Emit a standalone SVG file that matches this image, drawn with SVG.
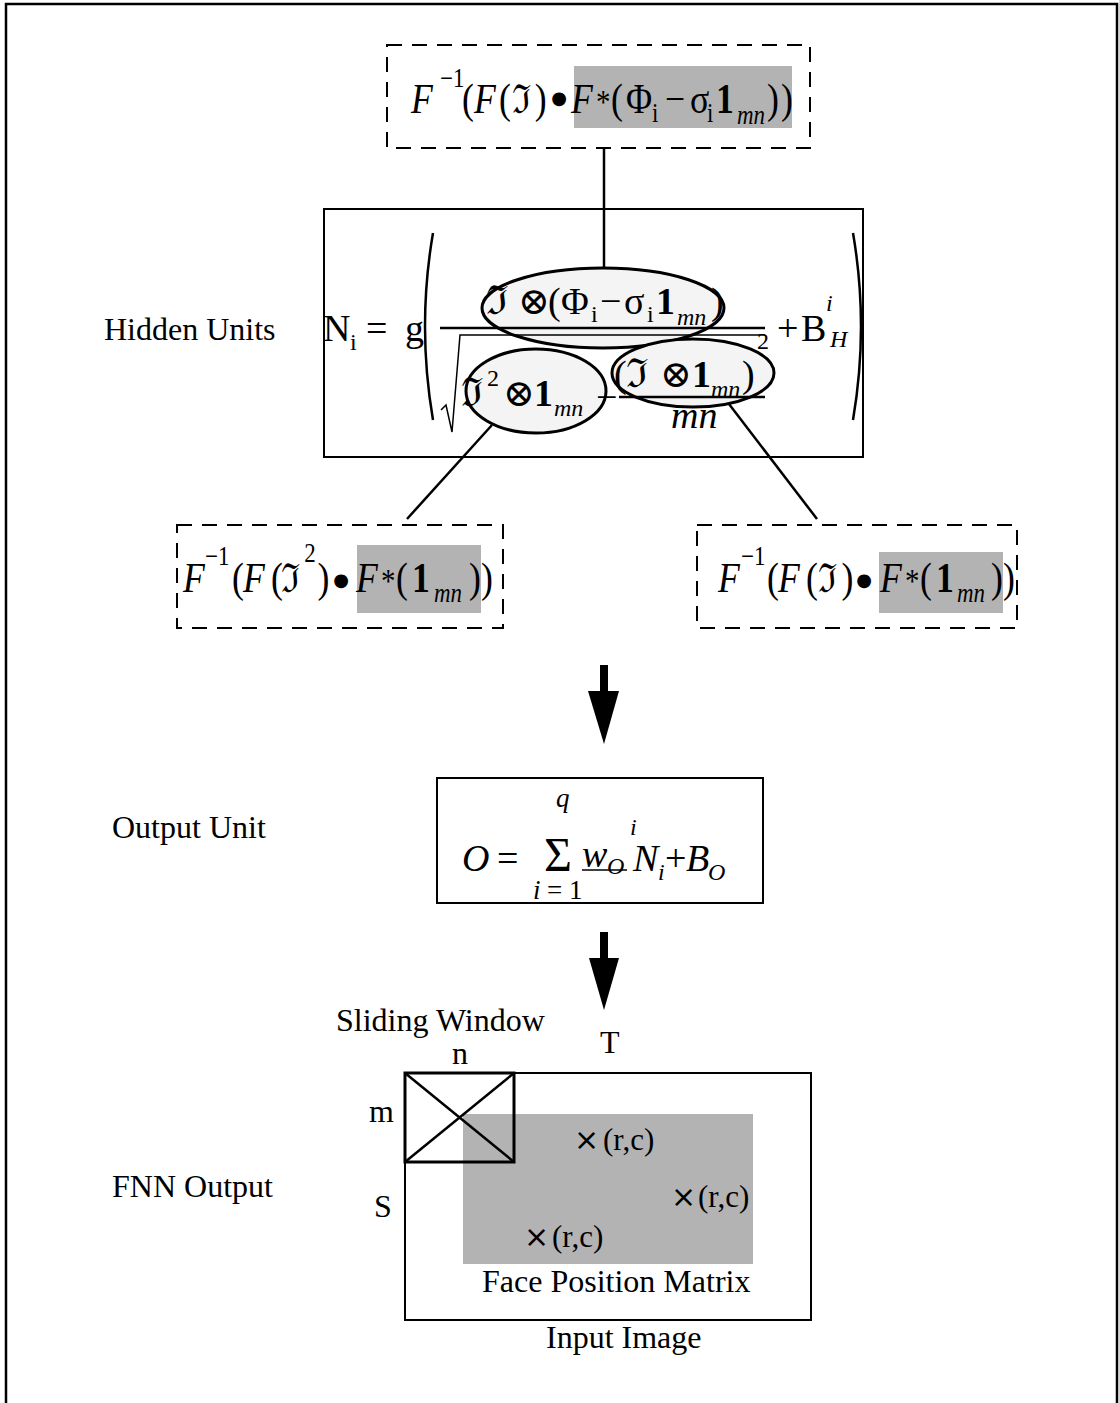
<svg xmlns="http://www.w3.org/2000/svg" width="1119" height="1403" viewBox="0 0 1119 1403">
<style>
.t{font-family:"Liberation Serif","DejaVu Serif",serif;fill:#000}
.lbl{font-size:32px}
.f{font-size:42px}
.h{font-size:38px}
.o{font-size:38px}
.s{font-size:27px}
.ss{font-size:24px}
.it{font-style:italic}
.b{font-weight:bold}
.fr{font-size:40px}
.ast{font-size:34px}
.dot{font-family:"DejaVu Sans",sans-serif;font-size:18px;text-anchor:middle}
.dash{fill:none;stroke:#000;stroke-width:2;stroke-dasharray:15 10}
.gray{fill:#b3b3b3}
.box{fill:none;stroke:#000;stroke-width:2}
.ell{fill:#f4f4f4;stroke:#000;stroke-width:3}
.ln{stroke:#000;stroke-width:2.5;fill:none}
</style>
<rect width="1119" height="1403" fill="#fff"/>
<path d="M6,1403 V4 H1117 V1403" fill="none" stroke="#000" stroke-width="2.5"/>

<g id="connectors">
<line class="ln" x1="604" y1="148" x2="604" y2="269"/>
<line class="ln" x1="492" y1="425" x2="407" y2="519"/>
<line class="ln" x1="729" y1="404" x2="817" y2="519"/>
<rect x="600" y="665" width="8" height="27"/>
<polygon points="588,691 619,691 604,744"/>
<rect x="600" y="932" width="8" height="27"/>
<polygon points="589,958 619,958 604,1010"/>
</g>

<g id="top-formula">
<rect class="dash" x="387" y="45" width="423" height="103"/>
<rect class="gray" x="574" y="66" width="218" height="62"/>
<g transform="scale(0.85,1)">
<text class="t f"><tspan class="it" x="483.5" y="113">F</tspan><tspan class="s" x="517.6" y="87">−1</tspan><tspan x="543.5" y="113">(</tspan><tspan class="it" x="557.6" y="113">F</tspan><tspan x="587.1" y="113">(</tspan><tspan class="fr" x="602" y="113">ℑ</tspan><tspan x="629" y="113">)</tspan><tspan class="it" x="671.8" y="113">F</tspan><tspan class="ast" x="701.2" y="113">*</tspan><tspan x="718.8" y="113">(</tspan><tspan x="736.5" y="113">Φ</tspan><tspan class="s" x="767.1" y="122">i</tspan><tspan x="782.4" y="113">−</tspan><tspan x="811.8" y="113">σ</tspan><tspan class="s" x="831.8" y="122">i</tspan><tspan class="b" x="842.4" y="113">1</tspan><tspan class="s it" x="867.1" y="124">mn</tspan><tspan x="902.4" y="113">)</tspan><tspan x="918.8" y="113">)</tspan></text>
</g>
<text class="dot" x="559" y="104">●</text>
</g>

<g id="hidden-units">
<text class="t lbl" x="104" y="340">Hidden Units</text>
<rect class="box" x="324" y="209" width="539" height="248"/>
<ellipse class="ell" cx="603" cy="308" rx="121" ry="40"/>
<ellipse class="ell" cx="536" cy="391" rx="70" ry="42"/>
<ellipse class="ell" cx="693" cy="373" rx="81" ry="34"/>
<path d="M433,233 Q417,326 433,420" fill="none" stroke="#000" stroke-width="2.5"/>
<path d="M853,233 Q869,326 853,420" fill="none" stroke="#000" stroke-width="2.5"/>
<line x1="440" y1="328" x2="765" y2="328" stroke="#000" stroke-width="2.5"/>
<path d="M441,410 L446,405 L452,432 L460,335 L765,335" fill="none" stroke="#000" stroke-width="1.5"/>
<line x1="619" y1="397" x2="765" y2="397" stroke="#000" stroke-width="2.5"/>
<text class="t h"><tspan x="323" y="341">N</tspan><tspan class="ss" x="350" y="350">i</tspan><tspan x="366" y="341">=</tspan><tspan x="405" y="341">g</tspan></text>
<text class="t h"><tspan class="fr" x="486" y="314">ℑ</tspan><tspan x="518" y="314">⊗</tspan><tspan x="548" y="314">(</tspan><tspan x="561" y="314">Φ</tspan><tspan class="ss" x="591" y="322">i</tspan><tspan x="600" y="314">−</tspan><tspan x="624" y="314">σ</tspan><tspan class="ss" x="647" y="322">i</tspan><tspan class="b" x="656" y="314">1</tspan><tspan class="ss it" x="677" y="325">mn</tspan><tspan x="711" y="314">)</tspan></text>
<text class="t h"><tspan x="777" y="341">+</tspan><tspan x="801" y="341">B</tspan><tspan class="ss it" x="826" y="311">i</tspan><tspan class="ss it" x="830" y="347">H</tspan></text>
<text class="t h"><tspan class="fr" x="461" y="406">ℑ</tspan><tspan class="ss" x="487" y="386">2</tspan><tspan x="503" y="406">⊗</tspan><tspan class="b" x="534" y="406">1</tspan><tspan class="ss it" x="554" y="416">mn</tspan><tspan x="596" y="410">−</tspan></text>
<text class="t h"><tspan x="614" y="387">(</tspan><tspan class="fr" x="626" y="387">ℑ</tspan><tspan x="660" y="387">⊗</tspan><tspan class="b" x="692" y="387">1</tspan><tspan class="ss it" x="711" y="397">mn</tspan><tspan x="742" y="387">)</tspan><tspan class="ss" x="757" y="349">2</tspan></text>
<text class="t h it" x="671" y="428">mn</text>
</g>

<g id="left-formula">
<rect class="dash" x="177" y="525" width="326" height="103"/>
<rect class="gray" x="357" y="545" width="124" height="68"/>
<g transform="scale(0.85,1)">
<text class="t f"><tspan class="it" x="215.3" y="592">F</tspan><tspan class="s" x="241.2" y="565">−1</tspan><tspan x="272.9" y="592">(</tspan><tspan class="it" x="285.9" y="592">F</tspan><tspan x="318.8" y="592">(</tspan><tspan class="fr" x="331" y="592">ℑ</tspan><tspan class="s" x="358" y="562">2</tspan><tspan x="373.5" y="592">)</tspan><tspan class="it" x="418.8" y="592">F</tspan><tspan class="ast" x="448.2" y="592">*</tspan><tspan x="465.9" y="592">(</tspan><tspan class="b" x="484.7" y="592">1</tspan><tspan class="s it" x="510.6" y="602">mn</tspan><tspan x="551.8" y="592">)</tspan><tspan x="565.9" y="592">)</tspan></text>
</g>
<text class="dot" x="341" y="586">●</text>
</g>

<g id="right-formula">
<rect class="dash" x="697" y="525" width="320" height="103"/>
<rect class="gray" x="879" y="552" width="124" height="61"/>
<g transform="scale(0.85,1)">
<text class="t f"><tspan class="it" x="844.7" y="592">F</tspan><tspan class="s" x="871.8" y="565">−1</tspan><tspan x="902.4" y="592">(</tspan><tspan class="it" x="915.3" y="592">F</tspan><tspan x="948.2" y="592">(</tspan><tspan class="fr" x="962" y="592">ℑ</tspan><tspan x="990" y="592">)</tspan><tspan class="it" x="1035.3" y="592">F</tspan><tspan class="ast" x="1064.7" y="592">*</tspan><tspan x="1082.4" y="592">(</tspan><tspan class="b" x="1101.2" y="592">1</tspan><tspan class="s it" x="1125.9" y="602">mn</tspan><tspan x="1165.9" y="592">)</tspan><tspan x="1180" y="592">)</tspan></text>
</g>
<text class="dot" x="864" y="586">●</text>
</g>

<g id="output-unit">
<text class="t lbl" x="112" y="838">Output Unit</text>
<rect class="box" x="437" y="778" width="326" height="125"/>
<text class="t o"><tspan class="it" x="462" y="871">O</tspan><tspan x="497" y="871">=</tspan></text>
<text class="t" x="544" y="871" font-size="48">Σ</text>
<text class="t s it" x="556" y="807">q</text>
<text class="t s"><tspan class="it" x="533" y="899">i</tspan><tspan x="547" y="899">= 1</tspan></text>
<text class="t o it"><tspan x="582" y="867">w</tspan><tspan class="ss" x="607" y="874">O</tspan><tspan class="ss" x="630" y="835">i</tspan><tspan x="633" y="871">N</tspan><tspan class="ss" x="658" y="880">i</tspan></text>
<line x1="582" y1="870" x2="627" y2="870" stroke="#000" stroke-width="1.5"/>
<text class="t o"><tspan x="665" y="871">+</tspan><tspan class="it" x="686" y="871">B</tspan><tspan class="ss it" x="708" y="880">O</tspan></text>
</g>

<g id="fnn-output">
<text class="t lbl" x="112" y="1197">FNN Output</text>
<text class="t lbl" x="336" y="1031">Sliding Window</text>
<text class="t lbl" x="452" y="1064">n</text>
<text class="t lbl" x="600" y="1053">T</text>
<text class="t lbl" x="369" y="1122">m</text>
<text class="t lbl" x="374" y="1217">S</text>
<rect x="405" y="1073" width="406" height="247" fill="none" stroke="#000" stroke-width="2"/>
<rect class="gray" x="463" y="1114" width="290" height="150"/>
<rect x="405" y="1073" width="109" height="89" fill="none" stroke="#000" stroke-width="3"/>
<line x1="405" y1="1073" x2="514" y2="1162" stroke="#000" stroke-width="2.5"/>
<line x1="514" y1="1073" x2="405" y2="1162" stroke="#000" stroke-width="2.5"/>
<text class="t" font-size="31"><tspan x="574" y="1150" font-family="DejaVu Sans" font-size="30">×</tspan><tspan x="603" y="1150">(r,c)</tspan></text>
<text class="t" font-size="31"><tspan x="671" y="1207" font-family="DejaVu Sans" font-size="30">×</tspan><tspan x="698" y="1207">(r,c)</tspan></text>
<text class="t" font-size="31"><tspan x="524" y="1247" font-family="DejaVu Sans" font-size="30">×</tspan><tspan x="552" y="1247">(r,c)</tspan></text>
<text class="t lbl" x="482" y="1292">Face Position Matrix</text>
<text class="t lbl" x="546" y="1348">Input Image</text>
</g>
</svg>
